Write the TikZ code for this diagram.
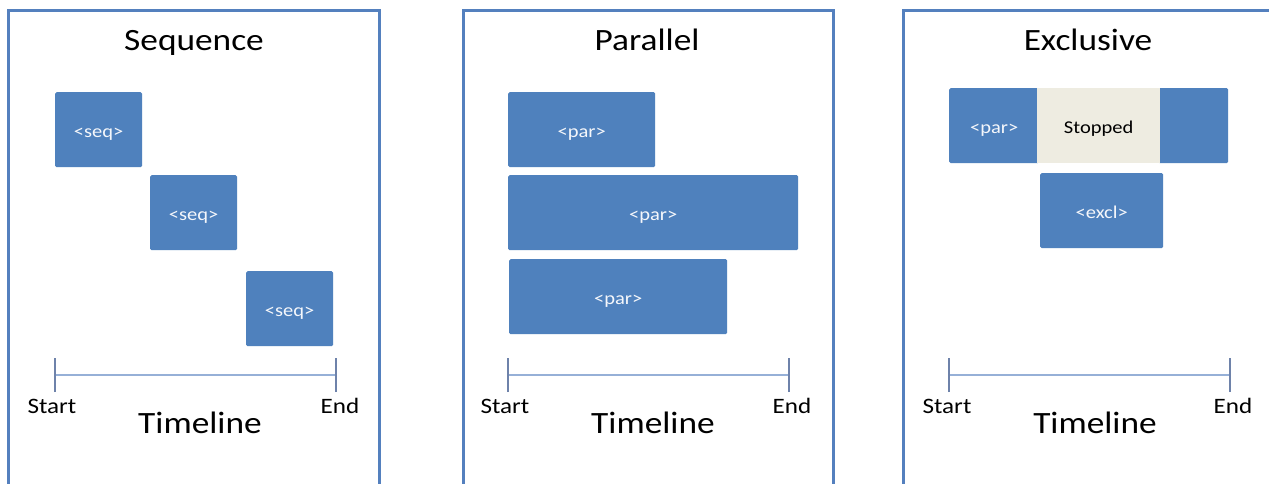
\documentclass[tikz,border=0pt]{standalone}
\usepackage{fontspec}
\setmainfont{Carlito}
\usepackage{graphicx}
\usepackage{tikz}
\definecolor{boxblue}{RGB}{79, 129, 189}
\definecolor{framblue}{RGB}{84, 128, 190}
\definecolor{lineblue}{RGB}{150, 176, 215}
\definecolor{tickblue}{RGB}{110, 130, 170}
\definecolor{stopfill}{RGB}{238, 236, 225}
\newcommand{\wtext}[1]{\scalebox{1.14}[1]{#1}}

\tikzset{
  panel/.style={draw=framblue, line width=3pt},
  task/.style={fill=boxblue, rounded corners=1.5pt, anchor=north west, inner sep=0pt,
    text=white!94!boxblue, minimum height=75pt, text height=15pt, text depth=0pt,
    font=\fontsize{18}{18}\selectfont},
  title/.style={anchor=base, xscale=1.14, font=\fontsize{31}{31}\selectfont},
  ends/.style={anchor=base, xscale=1.14, font=\fontsize{22}{22}\selectfont},
  tline/.style={lineblue, line width=2pt},
  tick/.style={tickblue, line width=1.6pt}
}

\begin{document}
\begin{tikzpicture}[x=1pt, y=-1pt]
        \useasboundingbox (0,0) rectangle (1269,483);
        \clip (0,0) rectangle (1269,483);
        \fill[white] (0,0) rectangle (1269,483);
        % Sequence
        \draw[panel] (8,10) rectangle (379,495);
        \node[title] (seqtitle) at (194,50) {Sequence};
        \node[task, minimum width=87pt] (seqA) at (55,92) {\wtext{<seq>}};
        \node[task, minimum width=87pt] (seqB) at (150,175) {\wtext{<seq>}};
        \node[task, minimum width=87pt] (seqC) at (246,271) {\wtext{<seq>}};
        \coordinate (seqstart) at (55,375);
        \coordinate (seqend) at (336,375);
        \draw[tline] (seqstart) -- (seqend);
        \draw[tick] ([yshift=-17pt]seqstart) -- ([yshift=17pt]seqstart);
        \draw[tick] ([yshift=-17pt]seqend) -- ([yshift=17pt]seqend);
        \node[ends] (seqS) at (52,413) {Start};
        \node[ends] (seqE) at (340,413) {End};
        \node[title] (seqtime) at (200,433) {Timeline};
        % Parallel
        \draw[panel] (463,10) rectangle (833,495);
        \node[title] (partitle) at (647,50) {Parallel};
        \node[task, minimum width=147pt] (parA) at (508,92) {\wtext{<par>}};
        \node[task, minimum width=290pt] (parB) at (508,175) {\wtext{<par>}};
        \node[task, minimum width=218pt] (parC) at (509,259) {\wtext{<par>}};
        \coordinate (parstart) at (508,375);
        \coordinate (parend) at (789,375);
        \draw[tline] (parstart) -- (parend);
        \draw[tick] ([yshift=-17pt]parstart) -- ([yshift=17pt]parstart);
        \draw[tick] ([yshift=-17pt]parend) -- ([yshift=17pt]parend);
        \node[ends] (parS) at (505,413) {Start};
        \node[ends] (parE) at (792,413) {End};
        \node[title] (partime) at (653,433) {Timeline};
        % Exclusive
        \draw[panel] (903,10) rectangle (1280,495);
        \node[title] (exctitle) at (1088,50) {Exclusive};
        \node[task, minimum width=90pt] (excparA) at (949,88) {\wtext{<par>}\hspace{8pt}};
        \node[task, minimum width=70pt] (excparB) at (1158,88) {};
        \node[task, fill=stopfill, text=black, rounded corners=0pt, minimum width=123pt]
          (excstop) at (1037,88) {\wtext{Stopped}};
        \node[task, minimum width=123pt] (excl) at (1040,173) {\wtext{<excl>}};
        \coordinate (excstart) at (949,375);
        \coordinate (excend) at (1230,375);
        \draw[tline] (excstart) -- (excend);
        \draw[tick] ([yshift=-17pt]excstart) -- ([yshift=17pt]excstart);
        \draw[tick] ([yshift=-17pt]excend) -- ([yshift=17pt]excend);
        \node[ends] (excS) at (947,413) {Start};
        \node[ends] (excE) at (1233,413) {End};
        \node[title] (exctime) at (1095,433) {Timeline};
      \end{tikzpicture}
\end{document}
